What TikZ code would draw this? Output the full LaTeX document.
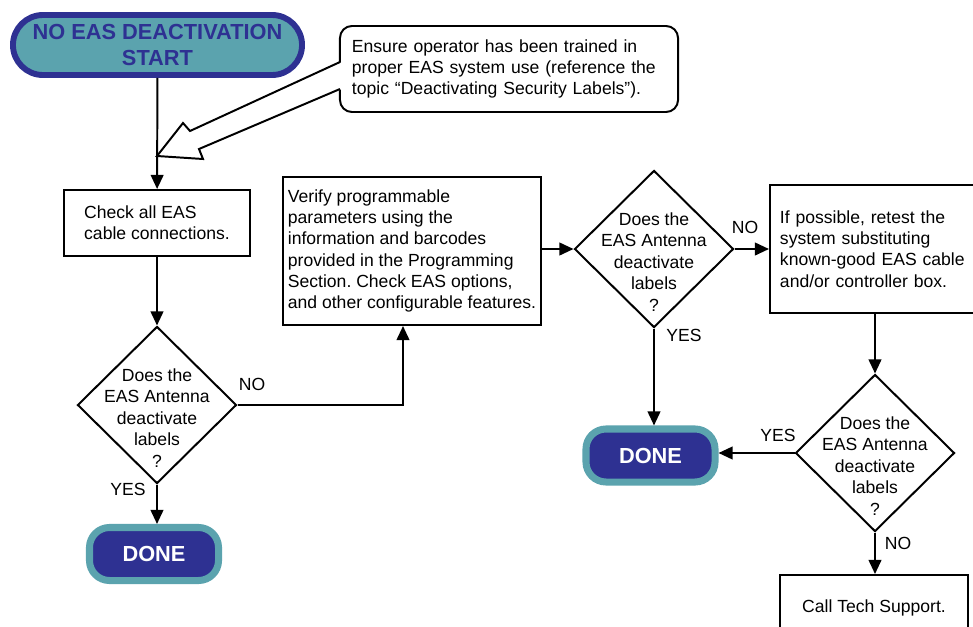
\documentclass[tikz,border=0pt]{standalone}
\usepackage{fontspec}
\setmainfont{Liberation Sans}
\usepackage{tikz}
\usetikzlibrary{arrows.meta,positioning,shapes.geometric,calc}
\definecolor{easteal}{RGB}{91,163,174}
\definecolor{easnavy}{RGB}{46,49,146}
\frenchspacing
\newcommand{\askantenna}{\smash{\raisebox{-0.43cm}{\parbox[c]{3.2cm}{\centering Does the\\EAS Antenna\\deactivate\\labels\\?}}}}

\begin{document}
\begin{tikzpicture}[x=0.025cm, y=-0.025cm, font=\fontsize{12.5}{15.2}\selectfont, line width=1.4pt, >={Triangle[length=10pt,width=9pt]}]
\tikzstyle{proc}=[draw, rectangle, fill=white, align=left]
\tikzstyle{ask}=[draw, diamond, fill=white, inner sep=0pt, minimum width=3.975cm, minimum height=3.925cm]
\tikzstyle{startbox}=[rounded corners=0.75cm, draw=easnavy, line width=4.2pt, fill=easteal, text=easnavy, font=\fontsize{15.5}{19}\selectfont\bfseries, minimum width=7.225cm, minimum height=1.5cm, inner sep=0pt, align=center]
\tikzstyle{donebox}=[rounded corners=0.5cm, draw=easteal, line width=5pt, fill=easnavy, text=white, font=\fontsize{15.5}{19}\selectfont\bfseries, minimum width=3.225cm, minimum height=1.325cm, inner sep=0pt]
\tikzstyle{lbl}=[inner sep=0pt]
\useasboundingbox (0,0) rectangle (973,626);
% left column
\node[startbox] (start) at (157.5,45) {NO EAS DEACTIVATION\\START};
\node[draw, rounded corners=0.3cm, text width=7.85cm, inner sep=0.3cm, minimum height=2.15cm, align=left] (note) at (509,69) {Ensure operator has been trained in\\proper EAS system use (reference the\\topic “Deactivating Security Labels”).};
\node[proc, minimum width=4.65cm, minimum height=1.65cm] (check) at (157,223) {Check all EAS\\cable connections.};
\node[ask] (ask1) at (157,405) {\askantenna};
\node[donebox] (done1) at (154,554) {DONE};
% middle
\node[proc, minimum width=6.4cm, minimum height=3.7cm] (verify) at (412,251) {Verify programmable\\parameters using the\\information and barcodes\\provided in the Programming\\Section. Check EAS options,\\and other configurable features.};
\node[ask] (ask2) at (654,249) {\askantenna};
\node[donebox] (done2) at (650.5,455.5) {DONE};
% right column
\node[proc, text width=5cm, inner sep=0.25cm, minimum height=3.2cm] (retest) at (880,249) {If possible, retest the\\system substituting\\known-good EAS cable\\and/or controller box.};
\node[ask] (ask3) at (875,453) {\askantenna};
\node[proc, minimum width=4.7cm, minimum height=1.625cm, align=center] (tech) at (874,607.5) {Call Tech Support.};
% answers
\node[lbl] (no1) at (252,384) {NO};
\node[lbl] (yes1) at (128,489) {YES};
\node[lbl] (no2) at (745,227) {NO};
\node[lbl] (yes2) at (684,335) {YES};
\node[lbl] (yes3) at (778,435) {YES};
\node[lbl] (no3) at (898,543) {NO};
% connectors
\draw[->] (start) -- (check);
\draw[->] (check) -- (ask1);
\draw[->] (ask1.east) -| ([xshift=-0.225cm]verify.south);
\draw[->] (ask1.south) -- (ask1.south |- done1.north);
\draw[->] (verify.east |- ask2.west) -- (ask2.west);
\draw[->] (ask2) -- (retest);
\draw[->] (ask2.south) -- (ask2.south |- done2.north);
\draw[->] (ask3.north |- retest.south) -- (ask3.north);
\draw[->] (ask3.west) -- (done2.east |- ask3.west);
\draw[->] (ask3.south) -- (ask3.south |- tech.north);
% callout arrow of the note
\fill[white] (342,62) -- (190,131) -- (183,123) -- (157,156) -- (203,159) -- (199,149) -- (342,89) -- cycle;
\draw[line join=miter] (340,62) -- (190,131) -- (183,123) -- (157,156) -- (203,159) -- (199,149) -- (340,89);
\end{tikzpicture}
\end{document}
